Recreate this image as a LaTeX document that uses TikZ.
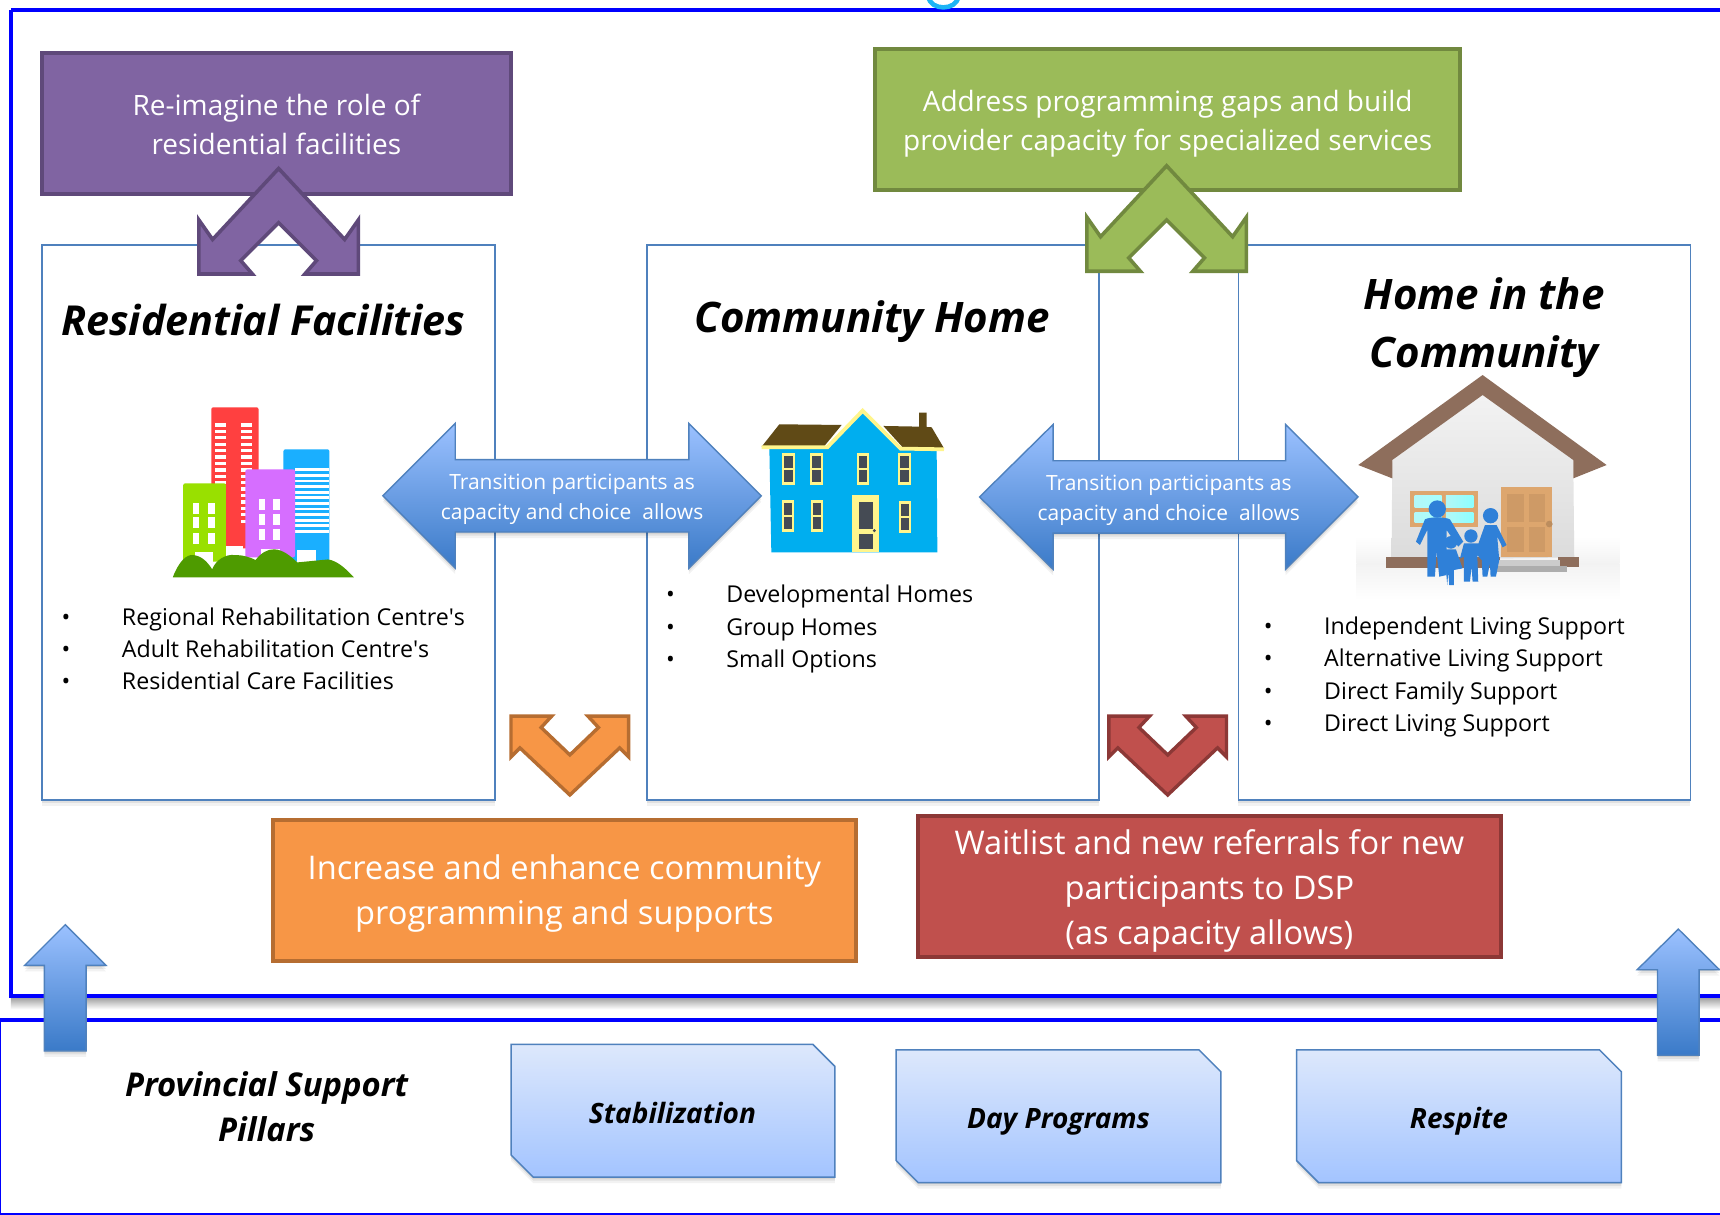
\documentclass[tikz,border=0pt]{standalone}
\usepackage{fontspec}
\setmainfont{Open Sans}
\newfontfamily\plainos{Open Sans}
\usetikzlibrary{shadows}
\definecolor{pframe}{HTML}{0000FF}
\definecolor{boxline}{HTML}{4F81BD}
\definecolor{purpfill}{HTML}{8064A2}\definecolor{purpline}{HTML}{5F497A}
\definecolor{grnfill}{HTML}{9BBB59}\definecolor{grnline}{HTML}{71893F}
\definecolor{orgfill}{HTML}{F79646}\definecolor{orgline}{HTML}{B66D31}
\definecolor{redfill}{HTML}{C0504D}\definecolor{redline}{HTML}{8C3836}
\definecolor{arrtop}{HTML}{9BC1FF}\definecolor{arrbot}{HTML}{3A7AC8}
\definecolor{pilltop}{HTML}{DDE8FC}\definecolor{pillbot}{HTML}{A3C4FF}
\definecolor{dkpane}{HTML}{454B54}\definecolor{ylw}{HTML}{FFF58C}
\definecolor{hblue}{HTML}{00AEEF}\definecolor{roofb}{HTML}{604A16}
\definecolor{famblue}{HTML}{2F80D8}\definecolor{roof2}{HTML}{8E6E5C}
\definecolor{wood}{HTML}{DDA66E}\definecolor{frag}{HTML}{1CB4F5}
\newcommand{\fs}[2]{\fontsize{#1}{#2}\selectfont}
\newcommand{\apos}{{\plainos\char39}}
\tikzset{
  softshadow/.style={
    general shadow={shadow yshift=-1.5pt,fill=black,opacity=.09},
    general shadow={shadow yshift=-3.5pt,fill=black,opacity=.07},
    general shadow={shadow yshift=-6pt,fill=black,opacity=.05}},
  colbox/.style={draw=boxline,line width=1.8pt,fill=white,softshadow},
  trans/.style={draw=boxline,line width=1.4pt,top color=arrtop,bottom color=arrbot,softshadow,miter limit=10},
  pillar/.style={draw=boxline,line width=1.5pt,top color=pilltop,bottom color=pillbot,softshadow},
  colorbox/.style={line width=4pt,inner sep=0pt},
  whitetxt/.style={text=white,align=center,inner sep=0pt},
  titletxt/.style={font=\bfseries\itshape\fs{42}{58},text=black,align=center,inner sep=0pt},
  listtxt/.style={font=\fs{23.2}{26},text=black,anchor=base west,inner sep=0pt},
  pilltxt/.style={font=\bfseries\itshape\fs{28}{45},text=black,align=center,inner sep=0pt},
  win/.style={fill=ylw},pane/.style={fill=dkpane}
}
\newcommand{\chevup}[3]{\path[#3,line width=3.6pt,miter limit=10,shift={(#1,#2)}]
 (74.5,2.6)--(14.3,67.3)--(1.8,49.5)--(1.8,98.8)--(50.6,98.8)--(40,86.6)--(74.5,52)
 --(109,86.6)--(98.4,98.8)--(147.2,98.8)--(147.2,49.5)--(134.7,67.3)--cycle;}
\newcommand{\chevdown}[3]{\path[#3,line width=3.4pt,miter limit=10,shift={(#1,#2)}]
 (1.8,1.8)--(39,1.8)--(29.3,12.2)--(55.5,37.2)--(81.6,12.2)--(71.9,1.8)--(109.1,1.8)--(109.1,39)
 --(100.9,30.8)--(55.5,73.7)--(10,30.8)--(1.8,39)--cycle;}
\newcommand{\pill}[4]{\draw[pillar] (#1,#2)--(#3-20,#2)--(#3,#2+20)--(#3,#4)--(#1+20,#4)--(#1,#4-20)--cycle;}
\newcommand{\listitem}[5]{\node[listtxt] (#1b) at (#2,#4) {•};\node[listtxt] (#1) at (#3,#4) {#5};}
\begin{document}
\begin{tikzpicture}[x=1.09694pt,y=-1.09694pt]
\path[use as bounding box] (0,0) rectangle (1568,1107.6);
\clip (0,0) rectangle (1568,1107.6);
\fill[white] (0,0) rectangle (1568,1107.6);
% frames
\shade[top color=black!35,bottom color=white] (10,910) rectangle (1568,920);
\draw[pframe,line width=3.8pt] (10,9) -- (1575,9) (10,9) -- (10,908) -- (1575,908);
\draw[frag,line width=4.6pt] (846.5,-3) .. controls (848,10) and (872,10) .. (873.5,-3);
\fill[white] (0,930) rectangle (1568,1106);
\draw[pframe,line width=1.8pt] (0,930) rectangle (1575,1106.5);
\draw[pframe,line width=3.4pt] (0,930) -- (1575,930);
% columns
\draw[colbox] (38,223) rectangle (451,729);
\draw[colbox] (590,223) rectangle (1002,729);
\draw[colbox] (1129,223) rectangle (1541,729);
% titles
\node[titletxt,font=\bfseries\itshape\fs{41.3}{58}] (t1) at (240,292) {Residential Facilities};
\node[titletxt] (t2) at (795,293) {Community Home};
\node[titletxt] (t3) at (1353,299) {Home in the\\Community};
% top boxes
\node[colorbox,draw=purpline,fill=purpfill,minimum width=469.3pt,minimum height=141.5pt] (topl) at (252,112.5) {};
\node[whitetxt,font=\fs{28}{38.4}] (topltxt) at (252,113.5) {Re-imagine the role of\\residential facilities};
\node[colorbox,draw=grnline,fill=grnfill,minimum width=584.7pt,minimum height=140.4pt] (topr) at (1064.5,109) {};
\node[whitetxt,font=\fs{28}{39.5}] (toprtxt) at (1064.5,113) {Address programming gaps and build\\provider capacity for specialized services};
\chevup{179.5}{151}{draw=purpline,fill=purpfill}
\chevup{989}{148.5}{draw=grnline,fill=grnfill}
% lists
\listitem{a1}{56}{111}{570.5}{Regional Rehabilitation Centre\apos s}
\listitem{a2}{56}{111}{599.5}{Adult Rehabilitation Centre\apos s}
\listitem{a3}{56}{111}{629}{Residential Care Facilities}
\listitem{b1}{607}{662}{549.5}{Developmental Homes}
\listitem{b2}{607}{662}{579}{Group Homes}
\listitem{b3}{607}{662}{608.5}{Small Options}
\listitem{c1}{1152}{1207}{578.5}{Independent Living Support}
\listitem{c2}{1152}{1207}{608}{Alternative Living Support}
\listitem{c3}{1152}{1207}{637.5}{Direct Family Support}
\listitem{c4}{1152}{1207}{666.5}{Direct Living Support}
% buildings
\fill[fill={rgb,255:red,255;green,64;blue,64},rounded corners=2pt] (192.6,371.3) rectangle (235.7,500);
\foreach \yy in {0,...,15}{\fill[white] (196.4,385.9+5.85*\yy) rectangle +(9.5,3);\fill[white] (219.8,385.9+5.85*\yy) rectangle +(9.5,3);}
\fill[fill={rgb,255:red,26;green,175;blue,255},rounded corners=2pt] (258.4,409.6) rectangle (300.3,512);
\foreach \yy in {0,...,11}{\fill[white] (269,427+5.1*\yy) rectangle +(31.3,2.6);}
\fill[white] (270.9,501.4) rectangle (288,513);
\fill[fill={rgb,255:red,214;green,110;blue,255},rounded corners=2pt] (223.6,427.9) rectangle (269,508);
\foreach \xx in {235.7,249.3}\foreach \yy in {455.2,468.5,482.3}{\fill[white] (\xx,\yy) rectangle +(5.5,10);}
\fill[white] (238,500.8) rectangle (255.7,511);
\fill[fill={rgb,255:red,153;green,224;blue,0},rounded corners=2pt] (167,440.6) rectangle (206,512);
\foreach \xx in {175.6,190}\foreach \yy in {458.3,471.6,485.6}{\fill[white] (\xx,\yy) rectangle +(5.8,10);}
\fill[white] (177.5,503) rectangle (194,520);
\fill[white] (206,497.8) rectangle (221.7,509);
\fill[fill={rgb,255:red,78;green,155;blue,0}] (157.5,526.3) .. controls (163,512) and (170,505) .. (176.4,506)
 .. controls (184,507) and (189,512) .. (193.4,519) .. controls (197,510) and (206,505) .. (214,506)
 .. controls (222,506) and (228,508) .. (233,510.5) .. controls (238,504) and (244,500.5) .. (250,500.8)
 .. controls (258,501) and (265,507) .. (271,512.7) -- (299,510) .. controls (307,511) and (315,518) .. (322.6,526.3) -- cycle;
% transition arrows
\draw[trans] (349,452)--(415,386)--(415,419)--(628,419)--(628,386)--(694,452)--(628,518)--(628,485)--(415,485)--(415,518)--cycle;
\draw[trans] (893,453)--(960,387)--(960,420)--(1172,420)--(1172,387)--(1238,453)--(1172,519)--(1172,486)--(960,486)--(960,519)--cycle;
\node[whitetxt,font=\fs{21}{29.6}] (tr1) at (521.5,455) {Transition participants as\\capacity and choice\ \ allows};
\node[whitetxt,font=\fs{21}{29.6}] (tr2) at (1065.5,456) {Transition participants as\\capacity and choice\ \ allows};
% blue house
\begin{scope}[shift={(674.6,355.5)},x=0.3039*1.09694pt,y=-0.3039*1.09694pt]
\fill[roofb] (65,170)--(118,103)--(305,105)--(250,172)--cycle;
\fill[roofb] (430,108)--(537,110)--(537,68)--(560,68)--(560,111)--(575,112)--(612,175)--(488,172)--cycle;
\fill[hblue] (88,172)--(262,172)--(368,70)--(480,176)--(590,178)--(592,487)--(94,487)--cycle;
\draw[ylw,line width=3.8pt,miter limit=4] (65,172)--(262,172)--(368,62)--(482,176)--(612,178);
\foreach \xx/\yy in {127/190,211/190,350/190,475/190,125/330,212/330,476/333}{
 \fill[win] (\xx,\yy) rectangle +(38,96);
 \fill[pane] (\xx+6,\yy+9) rectangle +(26,35);
 \fill[pane] (\xx+6,\yy+50) rectangle +(26,37);}
\fill[win] (336,316) rectangle (416,487);
\fill[pane] (357,336) rectangle (398,418);
\fill[pane] (357,432) rectangle (398,476);
\fill[dkpane] (403,422) circle (5);
\end{scope}
% family house
\begin{scope}[shift={(1221.5,328.2)},x=0.3039*1.09694pt,y=-0.3039*1.09694pt]
\shade[top color=white,bottom color=black!5] (50,530) rectangle (838,610);
\shade[top color=black!5,bottom color=white] (50,610) rectangle (838,720);
\shade[top color=black!5,bottom color=black!14] (157,300)--(428,105)--(700,300)--(703,592)--(155,600)--cycle;
\fill[roof2] (55,315)--(428,45)--(800,315)--(700,355)--(700,300)--(428,105)--(157,300)--(157,355)--cycle;
\fill[wood] (210,392) rectangle (413,500);
\shade[left color=black!10!cyan!30,right color=cyan!35] (224,407) rectangle (305,443);
\shade[left color=black!10!cyan!30,right color=cyan!45] (318,407) rectangle (400,443);
\shade[left color=black!10!cyan!30,right color=cyan!35] (224,456) rectangle (305,488);
\shade[left color=black!10!cyan!30,right color=cyan!45] (318,456) rectangle (400,488);
\fill[wood] (484,382) rectangle (636,592);
\foreach \xx in {502,566}{\fill[wood!93!black] (\xx,402) rectangle +(50,85);\fill[wood!93!black] (\xx,500) rectangle +(50,75);}
\fill[wood!85!black] (628,492) circle (10);
\fill[roof2] (138,592) rectangle (480,625);
\fill[roof2] (655,592) rectangle (718,622);
\fill[black!20] (470,600) rectangle (660,618);\fill[black!32] (470,618) rectangle (680,635);
\fill[famblue] (292,447) circle (26);
\fill[famblue] (255,478) .. controls (270,470) and (315,470) .. (330,478) -- (370,545) -- (355,560) -- (320,510) -- (320,645) -- (298,650) -- (290,575) -- (285,650) -- (262,650) -- (262,510) -- (240,555) -- (228,545) -- cycle;
\fill[famblue] (452,467) circle (23);
\fill[famblue] (435,495) -- (470,495) -- (500,555) -- (488,562) -- (472,530) -- (478,600) -- (468,650) -- (452,650) -- (450,610) -- (442,650) -- (428,650) -- (425,590) -- (412,560) -- (435,495) -- cycle;
\fill[famblue] (393,528) circle (20);
\fill[famblue] (372,550) -- (415,550) -- (436,595) -- (425,600) -- (412,585) -- (415,665) -- (398,665) -- (395,620) -- (390,665) -- (372,665) -- (372,590) -- (360,595) -- cycle;
\fill[famblue] (333,547) circle (19);
\fill[famblue] (318,568) -- (348,568) -- (368,625) -- (342,630) -- (342,675) -- (328,675) -- (325,635) -- (322,675) -- (318,630) -- (295,620) -- cycle;
\end{scope}
% lower chevrons
\chevdown{464}{651}{draw=orgline,fill=orgfill}
\chevdown{1009}{651}{draw=redline,fill=redfill}
% lower boxes
\node[colorbox,draw=orgline,fill=orgfill,minimum width=583pt,minimum height=141pt] (boxo) at (515,811.5) {};
\node[whitetxt,font=\fs{32.6}{45}] (boxotxt) at (514.5,815) {Increase and enhance community\\programming and supports};
\node[colorbox,draw=redline,fill=redfill,minimum width=583pt,minimum height=141.5pt] (boxr) at (1103,808) {};
\node[whitetxt,font=\fs{32.6}{45}] (boxrtxt) at (1102.5,812) {Waitlist and new referrals for new\\participants to DSP\\(as capacity allows)};
% up arrows
\draw[trans] (59.5,843)--(96.5,880)--(78.5,880)--(78.5,958)--(40.5,958)--(40.5,880)--(22.5,880)--cycle;
\draw[trans] (1530,847)--(1567.5,884)--(1549,884)--(1549,962)--(1511,962)--(1511,884)--(1492.5,884)--cycle;
% pillars
\pill{466}{952}{761}{1073}
\pill{817}{957}{1113}{1078}
\pill{1182}{957}{1478}{1078}
\node[pilltxt] (p1) at (613,1015) {Stabilization};
\node[pilltxt] (p2) at (965,1023) {Day Programs};
\node[pilltxt] (p3) at (1330,1022) {Respite};
\node[pilltxt,font=\bfseries\itshape\fs{32.8}{45}] (ps) at (243,1009) {Provincial Support\\Pillars};
\end{tikzpicture}
\end{document}
